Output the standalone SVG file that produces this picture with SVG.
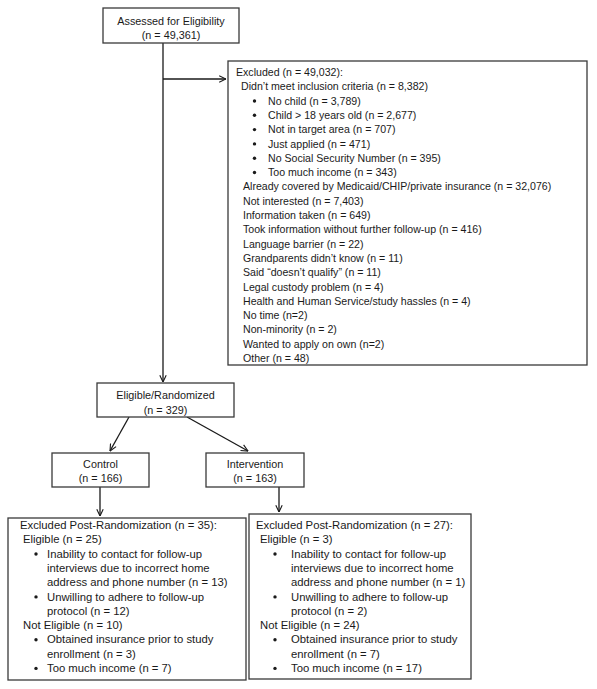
<svg xmlns="http://www.w3.org/2000/svg" width="597" height="689" viewBox="0 0 597 689">
<defs>
<marker id="arr" viewBox="0 0 10 10" refX="9.5" refY="5" markerWidth="8" markerHeight="8" markerUnits="userSpaceOnUse" orient="auto">
<path d="M1,1 L9.5,5 L1,9" fill="none" stroke="#1a1a1a" stroke-width="1.4"/>
</marker>
<style>
.box{fill:#fff;stroke:#3a3a3a;stroke-width:1.3}
.t{font-family:"Liberation Sans",Arial,sans-serif;font-size:10.6px;fill:#1a1a1a}
.tb{font-family:"Liberation Sans",Arial,sans-serif;font-size:11.3px;fill:#1a1a1a}
.th{font-family:"Liberation Sans",Arial,sans-serif;font-size:10.8px;fill:#1a1a1a}
.c{text-anchor:middle}
.ln{fill:none;stroke:#1a1a1a;stroke-width:1.3;marker-end:url(#arr)}
.dot{fill:#1a1a1a}
</style>
</defs>
<rect width="597" height="689" fill="#fff"/>
<g id="connectors">
<line class="ln" x1="163" y1="43" x2="163" y2="382"/>
<line class="ln" x1="163" y1="79" x2="226" y2="79"/>
<line class="ln" x1="129" y1="417" x2="110" y2="451"/>
<line class="ln" x1="187" y1="417" x2="248" y2="451"/>
<line class="ln" x1="100" y1="487" x2="100" y2="516"/>
<line class="ln" x1="279" y1="487" x2="279" y2="512"/>
</g>
<g id="assessed">
<rect class="box" x="103" y="8" width="136" height="35"/>
<text class="th c" x="171" y="24.5">Assessed for Eligibility</text>
<text class="th c" x="171" y="38.5">(n = 49,361)</text>
</g>
<g id="excluded">
<rect class="box" x="228" y="61" width="359" height="304"/>
<text class="t" x="236" y="76">Excluded (n = 49,032):</text>
<text class="t" x="241" y="90.3">Didn’t meet inclusion criteria (n = 8,382)</text>
<circle class="dot" cx="254.5" cy="101" r="1.7"/><text class="t" x="268" y="104.6">No child (n = 3,789)</text>
<circle class="dot" cx="254.5" cy="115.3" r="1.7"/><text class="t" x="268" y="118.9">Child &gt; 18 years old (n = 2,677)</text>
<circle class="dot" cx="254.5" cy="129.6" r="1.7"/><text class="t" x="268" y="133.2">Not in target area (n = 707)</text>
<circle class="dot" cx="254.5" cy="143.9" r="1.7"/><text class="t" x="268" y="147.5">Just applied (n = 471)</text>
<circle class="dot" cx="254.5" cy="158.2" r="1.7"/><text class="t" x="268" y="161.8">No Social Security Number (n = 395)</text>
<circle class="dot" cx="254.5" cy="172.5" r="1.7"/><text class="t" x="268" y="176.1">Too much income (n = 343)</text>
<text class="t" x="243" y="190.4">Already covered by Medicaid/CHIP/private insurance (n = 32,076)</text>
<text class="t" x="243" y="204.7">Not interested (n = 7,403)</text>
<text class="t" x="243" y="219">Information taken (n = 649)</text>
<text class="t" x="243" y="233.3">Took information without further follow-up (n = 416)</text>
<text class="t" x="243" y="247.6">Language barrier (n = 22)</text>
<text class="t" x="243" y="261.9">Grandparents didn’t know (n = 11)</text>
<text class="t" x="243" y="276.2">Said “doesn’t qualify” (n = 11)</text>
<text class="t" x="243" y="290.5">Legal custody problem (n = 4)</text>
<text class="t" x="243" y="304.8">Health and Human Service/study hassles (n = 4)</text>
<text class="t" x="243" y="319.1">No time (n=2)</text>
<text class="t" x="243" y="333.4">Non-minority (n = 2)</text>
<text class="t" x="243" y="347.7">Wanted to apply on own (n=2)</text>
<text class="t" x="243" y="362">Other (n = 48)</text>
</g>
<g id="eligible">
<rect class="box" x="97" y="383" width="137" height="34"/>
<text class="th c" x="165.5" y="398.5">Eligible/Randomized</text>
<text class="th c" x="165.5" y="414">(n = 329)</text>
</g>
<g id="control">
<rect class="box" x="52" y="453" width="97" height="34"/>
<text class="th c" x="100.5" y="467.5">Control</text>
<text class="th c" x="100.5" y="482">(n = 166)</text>
</g>
<g id="intervention">
<rect class="box" x="206" y="453" width="98" height="34"/>
<text class="th c" x="255" y="467.5">Intervention</text>
<text class="th c" x="255" y="482">(n = 163)</text>
</g>
<g id="excluded-control">
<rect class="box" x="8" y="518" width="238" height="162"/>
<text class="tb" x="20" y="529">Excluded Post-Randomization (n = 35):</text>
<text class="tb" x="23" y="543.3">Eligible (n = 25)</text>
<circle class="dot" cx="36" cy="554" r="1.7"/><text class="tb" x="47" y="557.6">Inability to contact for follow-up</text>
<text class="tb" x="47" y="571.9">interviews due to incorrect home</text>
<text class="tb" x="47" y="586.2">address and phone number (n = 13)</text>
<circle class="dot" cx="36" cy="596.9" r="1.7"/><text class="tb" x="47" y="600.5">Unwilling to adhere to follow-up</text>
<text class="tb" x="47" y="614.8">protocol (n = 12)</text>
<text class="tb" x="23" y="629.1">Not Eligible (n = 10)</text>
<circle class="dot" cx="36" cy="639.8" r="1.7"/><text class="tb" x="47" y="643.4">Obtained insurance prior to study</text>
<text class="tb" x="47" y="657.7">enrollment (n = 3)</text>
<circle class="dot" cx="36" cy="668.4" r="1.7"/><text class="tb" x="47" y="672">Too much income (n = 7)</text>
</g>
<g id="excluded-intervention">
<rect class="box" x="249" y="514" width="222" height="165"/>
<text class="tb" x="256" y="529">Excluded Post-Randomization (n = 27):</text>
<text class="tb" x="260" y="543.3">Eligible (n = 3)</text>
<circle class="dot" cx="275" cy="554" r="1.7"/><text class="tb" x="291" y="557.6">Inability to contact for follow-up</text>
<text class="tb" x="291" y="571.9">interviews due to incorrect home</text>
<text class="tb" x="291" y="586.2">address and phone number (n = 1)</text>
<circle class="dot" cx="275" cy="596.9" r="1.7"/><text class="tb" x="291" y="600.5">Unwilling to adhere to follow-up</text>
<text class="tb" x="291" y="614.8">protocol (n = 2)</text>
<text class="tb" x="260" y="629.1">Not Eligible (n = 24)</text>
<circle class="dot" cx="275" cy="639.8" r="1.7"/><text class="tb" x="291" y="643.4">Obtained insurance prior to study</text>
<text class="tb" x="291" y="657.7">enrollment (n = 7)</text>
<circle class="dot" cx="275" cy="668.4" r="1.7"/><text class="tb" x="291" y="672">Too much income (n = 17)</text>
</g>
</svg>
